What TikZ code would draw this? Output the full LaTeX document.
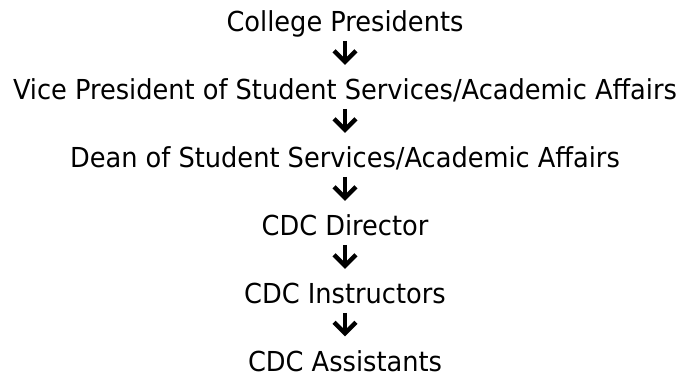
\documentclass[tikz,border=0pt]{standalone}
\usepackage{fontspec}
\setmainfont{DejaVu Sans Condensed}
\usetikzlibrary{calc}
\newcommand{\widetxt}[1]{\scalebox{1.037}[1]{#1}}
\begin{document}
\begin{tikzpicture}[x=1pt,y=1pt,
  lbl/.style={anchor=base, inner sep=0pt, text depth=0pt, font=\fontsize{27.5}{30}\selectfont},
  stem/.style={line width=4pt, line cap=butt, black},
  chev/.style={line width=4.5pt, line join=miter, miter limit=10, black}]
\useasboundingbox (0,0) rectangle (681,375);
\node[lbl] (n1) at (345,343) {\widetxt{College Presidents}};
\node[lbl] (n2) at (345,275) {\widetxt{Vice President of Student Services/Academic Affairs}};
\node[lbl] (n3) at (345,207) {\widetxt{Dean of Student Services/Academic Affairs}};
\node[lbl] (n4) at (345,139) {\widetxt{CDC Director}};
\node[lbl] (n5) at (345,71) {\widetxt{CDC Instructors}};
\node[lbl] (n6) at (345,3.5) {\widetxt{CDC Assistants}};
\foreach \a/\b in {n1/n2,n2/n3,n3/n4,n4/n5,n5/n6}{
  \draw[stem] ($(\a.base)+(0,-9)$) -- ($(\b.base)+(0,38.2)$);
  \draw[chev] ($(\b.base)+(-11,49.2)$) -- ($(\b.base)+(0,38.2)$) -- ($(\b.base)+(11,49.2)$);
}
\end{tikzpicture}
\end{document}
